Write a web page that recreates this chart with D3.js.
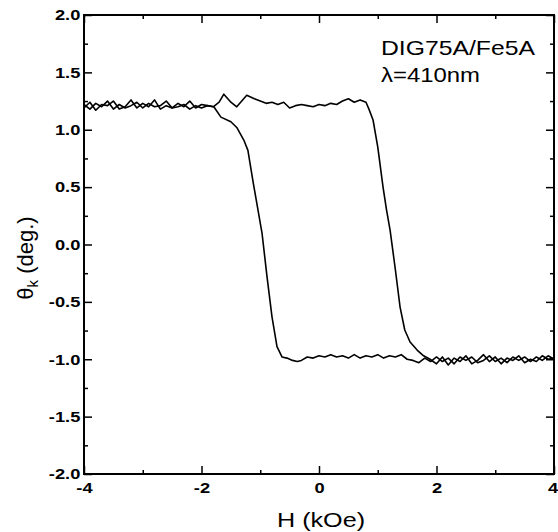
<!DOCTYPE html>
<html>
<head>
<meta charset="utf-8">
<script src="https://cdn.jsdelivr.net/npm/d3@7"></script>
<style>
  body { margin: 0; background: #fff; }
  svg { display: block; font-family: "Liberation Sans", Arial, sans-serif; }
</style>
</head>
<body>
<div id="chart"></div>
<script>
// Branch swept with rising field (kOe) and its Kerr rotation (deg.)
const upH = [-4.0, -3.9, -3.8, -3.7, -3.6, -3.5, -3.4, -3.3, -3.2, -3.1, -3.0, -2.9, -2.8, -2.7, -2.6, -2.5,
  -2.4, -2.3, -2.2, -2.1, -2.0, -1.9, -1.8, -1.7, -1.62, -1.5, -1.4, -1.3, -1.23, -1.1, -1.0, -0.9, -0.8,
  -0.7, -0.6, -0.5, -0.4, -0.3, -0.2, -0.1, 0.0, 0.1, 0.2, 0.3, 0.4, 0.5, 0.6, 0.7, 0.8, 0.85, 0.92, 1.0,
  1.09, 1.15, 1.21, 1.3, 1.38, 1.46, 1.55, 1.67, 1.78, 1.89, 2.0, 2.1, 2.2, 2.3, 2.4, 2.5, 2.6, 2.7, 2.8,
  2.9, 3.0, 3.1, 3.2, 3.3, 3.4, 3.5, 3.6, 3.7, 3.8, 3.9, 4.0];
const upTheta = [1.19, 1.24, 1.17, 1.22, 1.21, 1.25, 1.18, 1.20, 1.26, 1.19, 1.23, 1.20, 1.26, 1.18, 1.21, 1.19,
  1.23, 1.20, 1.25, 1.19, 1.22, 1.21, 1.20, 1.24, 1.31, 1.24, 1.20, 1.26, 1.30, 1.27, 1.25, 1.23, 1.24,
  1.22, 1.24, 1.19, 1.21, 1.22, 1.21, 1.20, 1.22, 1.21, 1.23, 1.22, 1.25, 1.27, 1.24, 1.26, 1.24, 1.18, 1.085, 0.85,
  0.50, 0.30, 0.126, -0.22, -0.545, -0.745, -0.85, -0.92, -0.97, -1.00, -1.04, -0.98, -1.05, -0.99, -1.02, -0.97, -1.04, -1.01, -0.96,
  -1.02, -0.98, -1.04, -0.99, -1.01, -0.97, -1.03, -1.00, -1.02, -0.97, -1.00, -0.99];

// Branch swept with falling field
const downH = [-4.0, -3.9, -3.8, -3.7, -3.6, -3.5, -3.4, -3.3, -3.2, -3.1, -3.0, -2.9, -2.8, -2.7, -2.6, -2.5,
  -2.4, -2.3, -2.2, -2.1, -2.0, -1.9, -1.79, -1.67, -1.5, -1.4, -1.28, -1.21, -1.12, -0.97, -0.885, -0.8,
  -0.715, -0.63, -0.545, -0.45, -0.37, -0.3, -0.2, -0.1, 0.0, 0.1, 0.2, 0.3, 0.4, 0.5, 0.6, 0.7, 0.8, 0.9,
  1.0, 1.1, 1.2, 1.3, 1.4, 1.5, 1.6, 1.7, 1.8, 1.9, 2.0, 2.1, 2.2, 2.3, 2.4, 2.5, 2.6, 2.7, 2.8, 2.9, 3.0,
  3.1, 3.2, 3.3, 3.4, 3.5, 3.6, 3.7, 3.8, 3.9, 4.0];
const downTheta = [1.22, 1.18, 1.23, 1.20, 1.25, 1.18, 1.22, 1.19, 1.21, 1.24, 1.19, 1.23, 1.20, 1.21, 1.25, 1.19,
  1.20, 1.22, 1.18, 1.21, 1.19, 1.21, 1.20, 1.11, 1.07, 1.02, 0.91, 0.82, 0.54, 0.10, -0.28, -0.63,
  -0.89, -0.98, -0.99, -1.01, -1.02, -1.01, -0.98, -0.99, -0.97, -0.98, -0.96, -0.98, -0.97, -0.99, -0.96, -0.99, -0.97, -0.98,
  -0.96, -0.99, -0.97, -0.98, -0.96, -1.00, -1.01, -1.03, -0.99, -1.02, -0.98, -1.02, -0.99, -1.04, -0.98, -1.01, -0.98, -1.03, -1.01, -0.97, -1.02,
  -0.99, -1.03, -0.98, -1.01, -0.98, -1.02, -0.98, -1.01, -0.97, -1.00];

const xTicks = [-4, -2, 0, 2, 4];
const xMinor = [-3, -1, 1, 3];
const yTicks = [-2.0, -1.5, -1.0, -0.5, 0.0, 0.5, 1.0, 1.5, 2.0];
const yMinor = [-1.75, -1.25, -0.75, -0.25, 0.25, 0.75, 1.25, 1.75];

const [w, h] = [558, 532];
const padL = 84, padR = 554, padT = 15, padB = 474;

const x = d3.scaleLinear().domain([-4, 4]).range([padL, padR]);
const y = d3.scaleLinear().domain([-2, 2]).range([padB, padT]);

const svg = d3.select("#chart").append("svg")
  .attr("width", w)
  .attr("height", h);

// inward ticks on all four sides, labels only left and bottom
function drawAxis(axisFn, scale, major, minor, transform, labelled) {
  const g = svg.append("g").attr("transform", transform);
  g.call(axisFn(scale).tickValues(minor).tickSize(-4).tickFormat(""));
  const g2 = svg.append("g").attr("transform", transform);
  const ax = axisFn(scale).tickValues(major).tickSize(-8);
  if (labelled) ax.tickFormat(labelled); else ax.tickFormat("");
  g2.call(ax);
  [g, g2].forEach(s => {
    s.select(".domain").remove();
    s.selectAll(".tick line").attr("stroke", "#000").attr("stroke-width", 1.5);
  });
  return g2;
}

const gx = drawAxis(d3.axisBottom, x, xTicks, xMinor, `translate(0,${padB})`, d => String(d));
gx.call(a => a.selectAll("text").attr("y", 8));
drawAxis(d3.axisTop, x, xTicks, xMinor, `translate(0,${padT})`, null);
const gy = drawAxis(d3.axisLeft, y, yTicks, yMinor, `translate(${padL},0)`, d => d.toFixed(1));
gy.call(a => a.selectAll("text").attr("x", -3));
drawAxis(d3.axisRight, y, yTicks, yMinor, `translate(${padR},0)`, null);

svg.selectAll(".tick text")
  .attr("fill", "#000")
  .attr("font-size", 15)
  .attr("font-weight", "bold")
  .attr("font-family", "'Liberation Sans', Arial, sans-serif")
  .attr("transform", "scale(1.22,1)");

// last x label sits against the page edge
gx.selectAll(".tick text")
  .filter(d => d === 4)
  .attr("text-anchor", "end")
  .attr("x", 3);

// frame
svg.append("rect")
  .attr("x", padL).attr("y", padT)
  .attr("width", padR - padL).attr("height", padB - padT)
  .attr("fill", "none").attr("stroke", "#000").attr("stroke-width", 2);

const line = d3.line()
  .x(d => x(d[0]))
  .y(d => y(d[1]));

[[upH, upTheta], [downH, downTheta]].forEach(([hs, ts]) => {
  svg.append("path")
    .datum(hs.map((v, i) => [v, ts[i]]))
    .attr("d", line)
    .attr("fill", "none")
    .attr("stroke", "#000")
    .attr("stroke-width", 1.6)
    .attr("stroke-linejoin", "round");
});

// annotation
svg.append("text")
  .attr("x", 381).attr("y", 55)
  .attr("font-size", 21)
  .attr("textLength", 154).attr("lengthAdjust", "spacingAndGlyphs")
  .text("DIG75A/Fe5A");
svg.append("text")
  .attr("x", 381).attr("y", 82)
  .attr("font-size", 21)
  .attr("textLength", 99).attr("lengthAdjust", "spacingAndGlyphs")
  .text("λ=410nm");

// axis titles
svg.append("text")
  .attr("x", 277).attr("y", 527)
  .attr("font-size", 21)
  .attr("textLength", 88).attr("lengthAdjust", "spacingAndGlyphs")
  .text("H (kOe)");

const yl = svg.append("text")
  .attr("transform", "translate(33,258) rotate(-90)")
  .attr("text-anchor", "middle")
  .attr("font-size", 22);
yl.append("tspan").text("θ");
yl.append("tspan").attr("font-size", 15).attr("dy", 5).text("k");
yl.append("tspan").attr("dy", -5).text(" (deg.)");
</script>
</body>
</html>
